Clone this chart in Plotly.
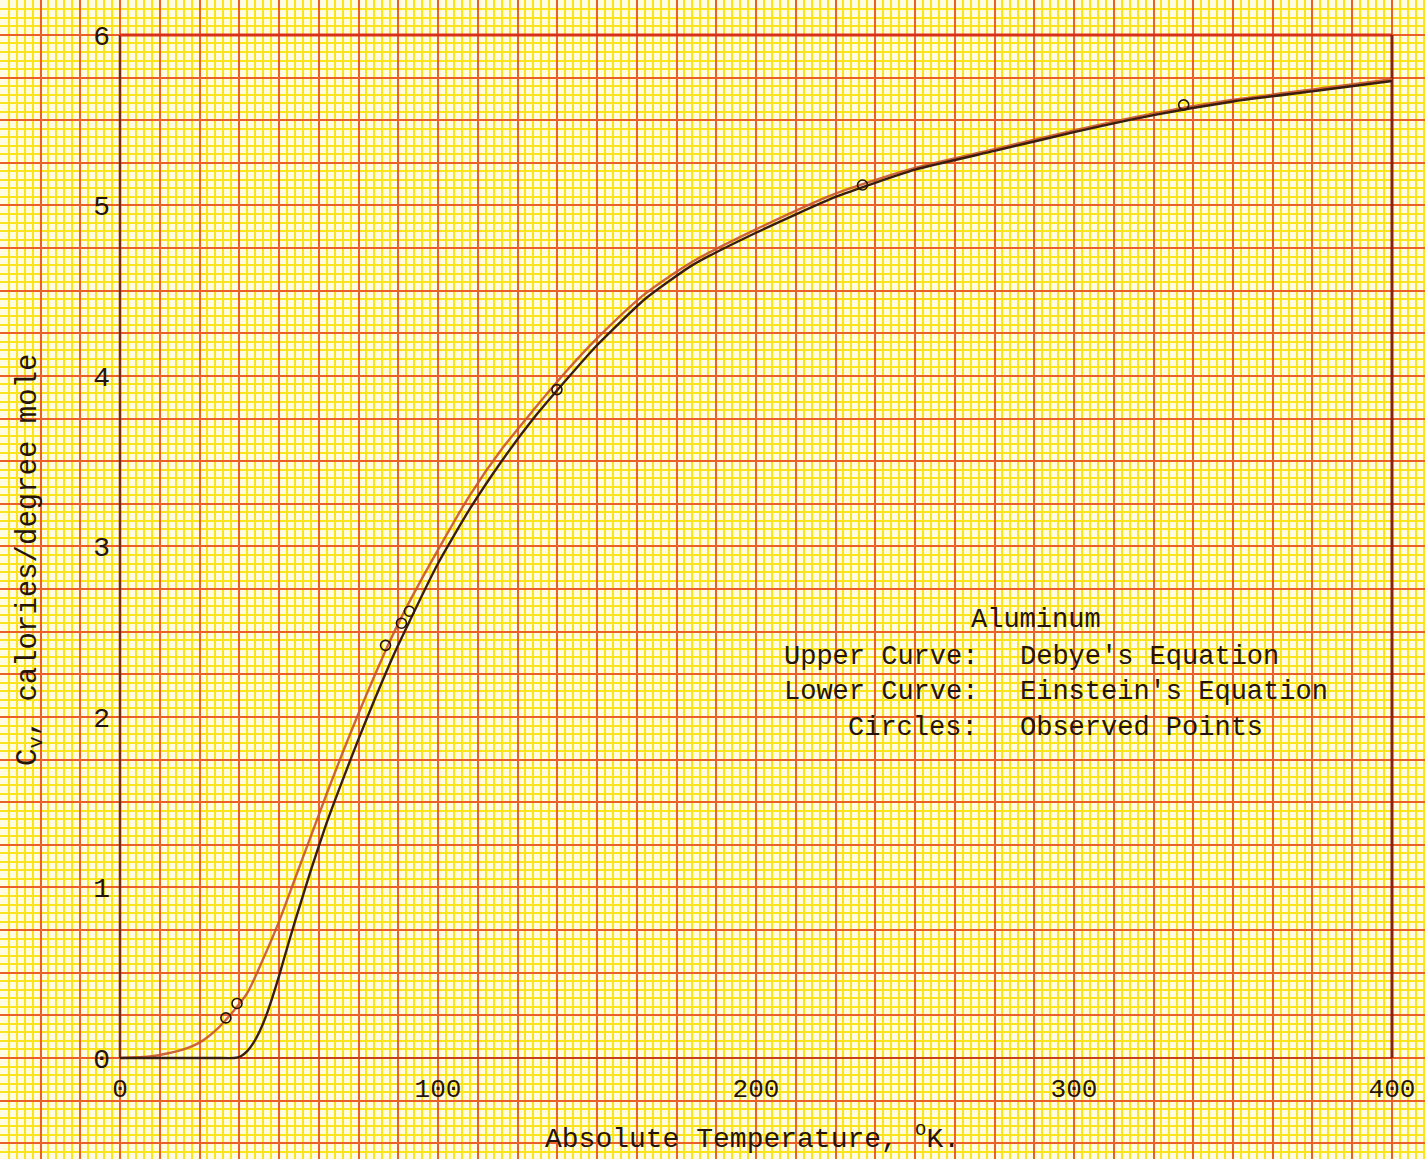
import plotly.graph_objects as go

# ---- data ----
debye_T = [0, 10, 20, 25, 30, 35, 40, 45, 50, 55, 60, 65, 70, 75, 80, 85, 90, 100, 110, 120, 130, 140,
           150, 165, 180, 200, 225, 250, 275, 300, 325, 350, 375, 400]
debye_cv = [0.0, 0.01, 0.05, 0.09, 0.16, 0.26, 0.38, 0.58, 0.80, 1.05, 1.30, 1.55, 1.79, 2.02, 2.24,
            2.45, 2.64, 2.98, 3.30, 3.57, 3.80, 4.02, 4.22, 4.48, 4.67, 4.86, 5.07, 5.22, 5.33, 5.44,
            5.54, 5.62, 5.68, 5.74]

einstein_T = [0, 20, 30, 36, 38, 40, 42, 44, 46, 48, 50, 52, 55, 60, 65, 70, 75, 80, 85, 90, 100, 110,
              120, 130, 140, 150, 165, 180, 200, 225, 250, 275, 300, 325, 350, 375, 400]
einstein_cv = [0.0, 0.0, 0.0, 0.0, 0.01, 0.04, 0.09, 0.16, 0.25, 0.36, 0.48, 0.61, 0.80, 1.10, 1.38,
               1.63, 1.87, 2.10, 2.32, 2.52, 2.90, 3.22, 3.50, 3.75, 3.97, 4.18, 4.45, 4.65, 4.84,
               5.05, 5.21, 5.32, 5.43, 5.53, 5.61, 5.67, 5.73]

obs_T = [33.3, 36.8, 83.5, 88.5, 91.0, 137.4, 233.5, 334.5]
obs_cv = [0.235, 0.32, 2.42, 2.55, 2.62, 3.92, 5.12, 5.59]

x_ticks = [0, 100, 200, 300, 400]
y_ticks = [0, 1, 2, 3, 4, 5, 6]

X_RANGE = [-37.74, 410.38]
Y_RANGE = [-0.5924, 6.205]

INK = "#24140c"
FONT = "Liberation Mono"

fig = go.Figure()

fig.add_trace(go.Scatter(x=debye_T, y=debye_cv, mode="lines", name="Debye",
                         line=dict(color="#C9552B", width=2.4, shape="spline", smoothing=0.7),
                         opacity=0.9, showlegend=False))
fig.add_trace(go.Scatter(x=einstein_T, y=einstein_cv, mode="lines", name="Einstein",
                         line=dict(color="#3b1c10", width=2.4, shape="spline", smoothing=0.5),
                         showlegend=False))
fig.add_trace(go.Scatter(x=obs_T, y=obs_cv, mode="markers", name="Observed",
                         xaxis="x2", yaxis="y2",
                         marker=dict(symbol="circle-open", size=10,
                                     line=dict(color=INK, width=1.6), color=INK),
                         showlegend=False))

# frame of the plotted region
frame = [
    ((0, 0), (0, 6), "#7a2a12", 2.5),
    ((0, 0), (400, 0), "#C8401A", 2),
    ((0, 6), (400, 6), "#D8301A", 3),
    ((400, 0), (400, 6), "#8A2010", 3),
]
shapes = [dict(type="line", xref="x", yref="y", x0=a[0], y0=a[1], x1=b[0], y1=b[1],
               line=dict(color=c, width=w), layer="between") for a, b, c, w in frame]

W, H = 1425, 1159
def px(xp, yp):
    return xp / W, 1 - yp / H

ann = []
def add_text(text, xp, yp, size, xanchor="center", angle=0):
    x, y = px(xp, yp)
    ann.append(dict(text=text, x=x, y=y, xref="paper", yref="paper", showarrow=False,
                    xanchor=xanchor, yanchor="middle", textangle=angle,
                    font=dict(family=FONT, size=size, color=INK)))

add_text("Absolute Temperature, <sup>o</sup>K.", 752, 1137, 28)
add_text("C<sub>v</sub>, calories/degree mole", 30, 560, 29, angle=-90)
add_text("Aluminum", 1036, 620, 27)
add_text("Upper Curve:", 980, 657, 27, xanchor="right")
add_text("Lower Curve:", 980, 692, 27, xanchor="right")
add_text("Circles:", 980, 728, 27, xanchor="right")
add_text("Debye's Equation", 1018, 657, 27, xanchor="left")
add_text("Einstein's Equation", 1018, 692, 27, xanchor="left")
add_text("Observed Points", 1018, 728, 27, xanchor="left")

fig.update_layout(
    width=W, height=H,
    margin=dict(l=0, r=0, t=0, b=0),
    paper_bgcolor="#FFFCE2",
    plot_bgcolor="#FFFCE2",
    showlegend=False,
    shapes=shapes,
    annotations=ann,
    xaxis=dict(range=X_RANGE, domain=[0, 1], showticklabels=False, ticks="",
               showgrid=True, gridcolor="#EA6028", gridwidth=2, tick0=0, dtick=12.5,
               minor=dict(showgrid=True, gridcolor="#FBE31E", gridwidth=2, dtick=2.5),
               zeroline=False, showline=False, fixedrange=True),
    yaxis=dict(range=Y_RANGE, domain=[0, 1], showticklabels=False, ticks="",
               showgrid=True, gridcolor="#EA6028", gridwidth=2, tick0=0, dtick=0.25,
               minor=dict(showgrid=True, gridcolor="#FBE31E", gridwidth=2, dtick=0.05),
               zeroline=False, showline=False, fixedrange=True),
    xaxis2=dict(range=X_RANGE, overlaying="x", anchor="free", position=(H - 1058) / H,
                side="bottom", tickmode="array", tickvals=x_ticks,
                ticktext=[str(v) for v in x_ticks], ticks="", ticklabelstandoff=12,
                showgrid=False, zeroline=False, showline=False,
                tickfont=dict(family=FONT, size=26, color=INK)),
    yaxis2=dict(range=Y_RANGE, overlaying="y", anchor="free", position=120 / W,
                side="left", tickmode="array", tickvals=y_ticks,
                ticktext=[str(v) for v in y_ticks], ticks="", ticklabelstandoff=10,
                showgrid=False, zeroline=False, showline=False,
                tickfont=dict(family=FONT, size=28, color=INK)),
)

fig.write_html("out.html", config={"displayModeBar": False},
               post_script="document.body.style.margin='0';")
